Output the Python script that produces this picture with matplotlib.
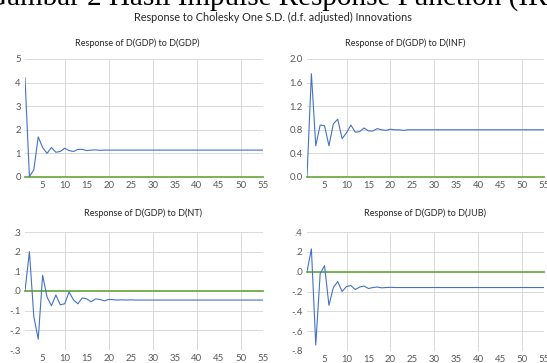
import matplotlib

matplotlib.use("Agg")

import matplotlib.pyplot as plt

FONT = ["Lato", "DejaVu Sans"]

PERIODS = list(range(1, 56))

RESP_GDP = [
    4.20, 0.02, 0.30, 1.70, 1.25, 1.00, 1.25, 1.05, 1.08, 1.22,
    1.12, 1.08, 1.17, 1.17, 1.12, 1.14, 1.15, 1.13, 1.14, 1.14,
    1.14, 1.14, 1.14, 1.14, 1.14, 1.14, 1.14, 1.14, 1.14, 1.14,
    1.14, 1.14, 1.14, 1.14, 1.14, 1.14, 1.14, 1.14, 1.14, 1.14,
    1.14, 1.14, 1.14, 1.14, 1.14, 1.14, 1.14, 1.14, 1.14, 1.14,
    1.14, 1.14, 1.14, 1.14, 1.14,
]
RESP_INF = [
    0.00, 1.75, 0.53, 0.88, 0.87, 0.53, 0.90, 0.98, 0.65, 0.75,
    0.88, 0.76, 0.77, 0.83, 0.78, 0.78, 0.82, 0.80, 0.79, 0.81,
    0.80, 0.80, 0.79, 0.80, 0.80, 0.80, 0.80, 0.80, 0.80, 0.80,
    0.80, 0.80, 0.80, 0.80, 0.80, 0.80, 0.80, 0.80, 0.80, 0.80,
    0.80, 0.80, 0.80, 0.80, 0.80, 0.80, 0.80, 0.80, 0.80, 0.80,
    0.80, 0.80, 0.80, 0.80, 0.80,
]
RESP_NT = [
    0.000, 0.200, -0.130, -0.245, 0.080, -0.030, -0.075, -0.020, -0.070, -0.065,
    -0.005, -0.045, -0.065, -0.035, -0.040, -0.055, -0.040, -0.043, -0.050, -0.043,
    -0.044, -0.046, -0.045, -0.046, -0.045, -0.046, -0.046, -0.046, -0.046, -0.046,
    -0.046, -0.046, -0.046, -0.046, -0.046, -0.046, -0.046, -0.046, -0.046, -0.046,
    -0.046, -0.046, -0.046, -0.046, -0.046, -0.046, -0.046, -0.046, -0.046, -0.046,
    -0.046, -0.046, -0.046, -0.046, -0.046,
]
RESP_JUB = [
    0.000, 0.230, -0.740, -0.020, 0.060, -0.340, -0.160, -0.100, -0.200, -0.150,
    -0.140, -0.180, -0.155, -0.145, -0.170, -0.160, -0.155, -0.163, -0.160, -0.158,
    -0.160, -0.160, -0.160, -0.160, -0.160, -0.160, -0.160, -0.160, -0.160, -0.160,
    -0.160, -0.160, -0.160, -0.160, -0.160, -0.160, -0.160, -0.160, -0.160, -0.160,
    -0.160, -0.160, -0.160, -0.160, -0.160, -0.160, -0.160, -0.160, -0.160, -0.160,
    -0.160, -0.160, -0.160, -0.160, -0.160,
]

X_TICKS = [5, 10, 15, 20, 25, 30, 35, 40, 45, 50, 55]
X_GRID = [10, 20, 30, 40, 50]

Y_TICKS_GDP = [0, 1, 2, 3, 4, 5]
Y_LABELS_GDP = ["0", "1", "2", "3", "4", "5"]
Y_TICKS_INF = [0.0, 0.4, 0.8, 1.2, 1.6, 2.0]
Y_LABELS_INF = ["0.0", "0.4", "0.8", "1.2", "1.6", "2.0"]
Y_TICKS_NT = [-0.3, -0.2, -0.1, 0.0, 0.1, 0.2, 0.3]
Y_LABELS_NT = ["-.3", "-.2", "-.1", ".0", ".1", ".2", ".3"]
Y_TICKS_JUB = [-0.8, -0.6, -0.4, -0.2, 0.0, 0.2, 0.4]
Y_LABELS_JUB = ["-.8", "-.6", "-.4", "-.2", ".0", ".2", ".4"]

TITLES = [
    "Response of D(GDP) to D(GDP)",
    "Response of D(GDP) to D(INF)",
    "Response of D(GDP) to D(NT)",
    "Response of D(GDP) to D(JUB)",
]

BLUE = "#4472C4"
GREEN = "#70AD47"
GRID = "#D9D9D9"
TICK = "#595959"

W, H = 547, 363


def px_rect(left, right, top, bottom):
    return [left / W, 1 - bottom / H, (right - left) / W, (bottom - top) / H]


def draw_panel(fig, rect, values, yticks, ylabels):
    ax = fig.add_axes(rect)
    ax.set_xlim(1, 55)
    ax.set_ylim(yticks[0], yticks[-1])
    for y in yticks:
        ax.axhline(y, color=GRID, lw=0.7, zorder=0)
    for x in X_GRID:
        ax.axvline(x, color=GRID, lw=0.7, zorder=0)
    ax.plot(PERIODS, [0] * len(PERIODS), color=GREEN, lw=1.3, clip_on=False, zorder=2)
    ax.plot(PERIODS, values, color=BLUE, lw=0.8, zorder=3)
    ax.set_xticks(X_TICKS)
    ax.set_xticklabels([str(t) for t in X_TICKS], family=FONT, fontsize=6.9, color=TICK)
    ax.set_yticks(yticks)
    ax.set_yticklabels(ylabels, family=FONT, fontsize=6.9, color=TICK)
    ax.tick_params(length=0, pad=3)
    ax.tick_params(axis="x", pad=3)
    for s in ax.spines.values():
        s.set_visible(False)
    return ax


fig = plt.figure(figsize=(W / 100, H / 100), dpi=100, facecolor="white")

fig.text(-0.025, 1 - 5 / H, "Gambar 2 Hasil Impulse Response Function (IRF)",
         family="Liberation Serif", fontsize=21, ha="left", va="baseline", color="black")
fig.text(273 / W, 1 - 17 / H, "Response to Cholesky One S.D. (d.f. adjusted) Innovations",
         family=FONT, fontsize=7.8, ha="center", va="center", color="#262626")

draw_panel(fig, px_rect(25, 263, 59, 177), RESP_GDP, Y_TICKS_GDP, Y_LABELS_GDP)
draw_panel(fig, px_rect(307, 544, 59, 177), RESP_INF, Y_TICKS_INF, Y_LABELS_INF)
draw_panel(fig, px_rect(25, 263, 232, 350), RESP_NT, Y_TICKS_NT, Y_LABELS_NT)
draw_panel(fig, px_rect(307, 544, 232, 351), RESP_JUB, Y_TICKS_JUB, Y_LABELS_JUB)

for (cx, cy), title in zip([(137, 43), (405, 43), (143, 213), (425, 213)], TITLES):
    fig.text(cx / W, 1 - cy / H, title, family=FONT, fontsize=6.5,
             ha="center", va="center", color="#262626")

fig.savefig("out.png", dpi=100, facecolor="white")
